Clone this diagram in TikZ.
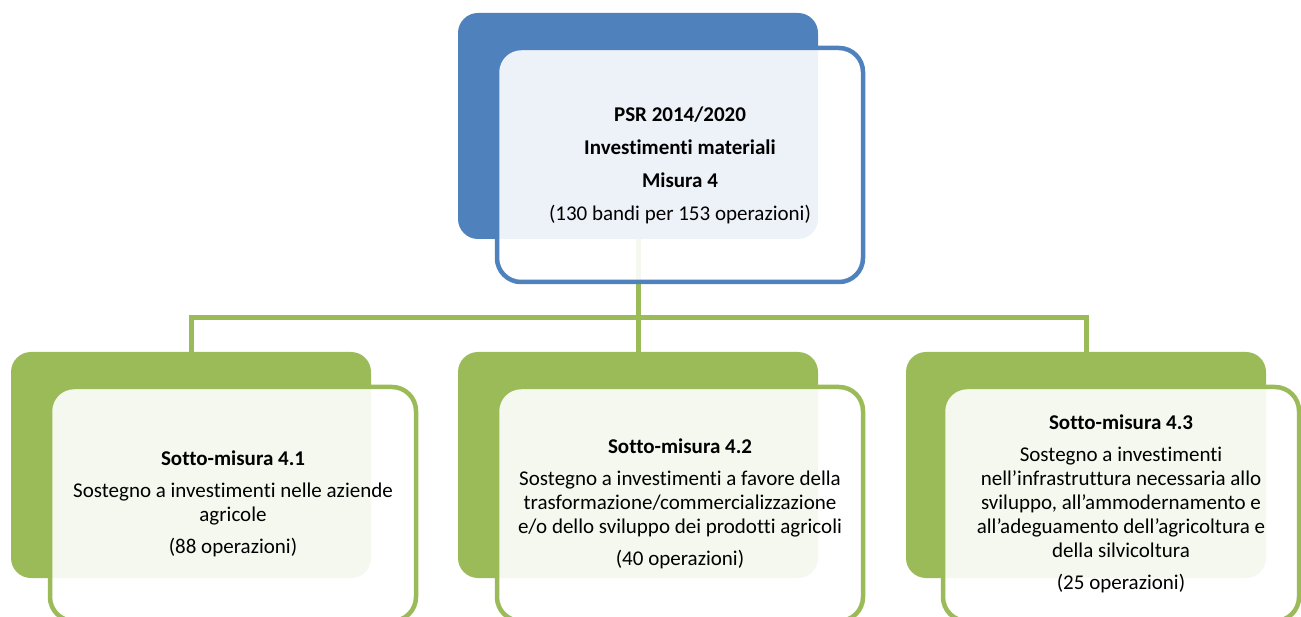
\documentclass[tikz,border=0pt]{standalone}
\usepackage{fontspec}
\setmainfont{Carlito}[Ligatures={NoCommon}, Contextuals={NoAlternate}]
\definecolor{blu}{HTML}{4F81BD}
\definecolor{verde}{HTML}{9BBB59}
\begin{document}
\begin{tikzpicture}[x=1pt,y=-1pt,
  backbox/.style={rounded corners=20pt, minimum width=360pt, minimum height=226pt, inner sep=0pt, fill=#1},
  frontbox/.style={rounded corners=24pt, minimum width=366pt, minimum height=234pt, draw=#1, line width=4.5pt,
    fill=white, fill opacity=0.9, text opacity=1, align=center, inner sep=0pt,
    font=\fontsize{21}{24}\selectfont},
  conn/.style={draw=verde, line width=5pt}]
\useasboundingbox (0,0) rectangle (1301,617);
\clip (0,0) rectangle (1301,617);
% back boxes
\node[backbox=blu]   (tb) at (638,126) {};
\node[backbox=verde] (b1) at (191,465) {};
\node[backbox=verde] (b2) at (638,465) {};
\node[backbox=verde] (b3) at (1086,465) {};
% connectors
\coordinate (bus) at (640,318);
\draw[conn] (tb.south) -- (tb.south |- bus);
\draw[conn] (b1.north) |- (bus) -| (b3.north);
\draw[conn] (b2.north) -- (b2.north |- bus);
% front boxes
\node[frontbox=blu] (tf) at (680,165)
  {\textbf{PSR 2014/2020}\\[9pt]\textbf{Investimenti materiali}\\[9pt]\textbf{Misura 4}\\[9pt](130 bandi per 153 operazioni)};
\node[frontbox=verde] (f1) at (233,504)
  {\textbf{Sotto-misura 4.1}\\[8pt]Sostegno a investimenti nelle aziende\\agricole\\[8pt](88 operazioni)};
\node[frontbox=verde] (f2) at (680,504)
  {\textbf{Sotto-misura 4.2}\\[8pt]Sostegno a investimenti a favore della\\trasformazione/commercializzazione\\e/o dello sviluppo dei prodotti agricoli\\[8pt](40 operazioni)};
\node[frontbox=verde, minimum width=356pt] (f3) at (1121,504)
  {\textbf{Sotto-misura 4.3}\\[8pt]Sostegno a investimenti\\nell’infrastruttura necessaria allo\\sviluppo, all’ammodernamento e\\all’adeguamento dell’agricoltura e\\della silvicoltura\\[8pt](25 operazioni)};
\end{tikzpicture}
\end{document}
